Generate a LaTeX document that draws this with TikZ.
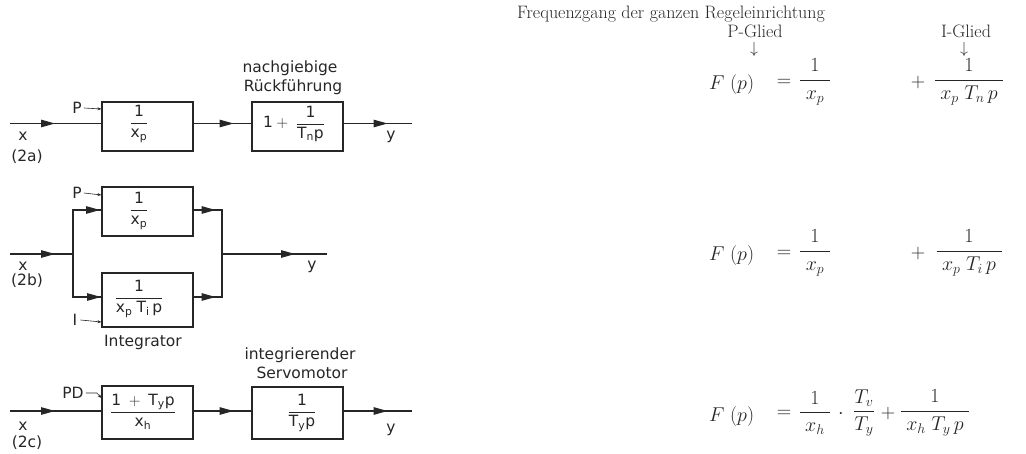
\RequirePackage{fix-cm}
\documentclass[tikz,border=0pt]{standalone}
\usepackage{amsmath}
\usepackage{fontspec}
\newfontfamily\lab{DejaVu Sans}
\usetikzlibrary{arrows.meta,decorations.markings}
\newcommand{\tx}[1]{\text{#1}}
\tikzset{
 blk/.style={draw=black!85, line width=1.1pt, minimum width=91pt, minimum height=49pt, inner sep=0pt},
 ln/.style={draw=black!85, line width=1.1pt},
 marr/.style={postaction={decorate},decoration={markings,mark=at position #1 with {\arrow{Triangle[length=14pt,width=7.5pt]}}}},
 lt/.style={font=\lab\fontsize{15.5}{18}\selectfont, inner sep=0pt, text=black!85},
 tin/.style={draw=black!85, line width=0.6pt, -{Stealth[length=4pt,width=3pt]}},
 rt/.style={font=\fontsize{18}{21}\selectfont, inner sep=0pt, text=black!85},
 rm/.style={font=\fontsize{20}{23}\selectfont, inner sep=0pt, text=black!85},
}
\begin{document}
\begin{tikzpicture}[x=1pt,y=-1pt]
\useasboundingbox (0,0) rectangle (1026,454);
% ---------- (2a)
\coordinate (xa) at (10,123.5);
\coordinate (ya) at (412,123.5);
\node[blk] (a1) at (147.5,126.5) {};
\node[blk] (a2) at (297.5,126.5) {};
\node[lt] (a1t) at (139,124) {$\dfrac{\tx{1}}{\tx{x}_{\tx{p}}}$};
\node[lt] (a2t) at (294,124) {$\tx{1}+\;\dfrac{\tx{1}}{\tx{T}_{\tx{n}}\tx{p}}$};
\draw[ln,marr=45pt] (xa) -- (a1.west |- xa);
\draw[ln,marr=40pt] (a1.east |- xa) -- (a2.west |- xa);
\draw[ln,marr=44pt] (a2.east |- xa) -- (ya);
\node[lt] (pa) at (77,108) {P};
\draw[tin] (pa.east) ++(2,0) coordinate (pas) -- (a1.west |- 0,109);
\node[lt] (xla) at (23,136) {x};
\node[lt] (nma) at (27,157) {(2a)};
\node[lt] (yla) at (391,137) {y};
\node[lt] (nga) at (290,68) {nachgiebige};
\node[lt] (rfa) at (293,87) {Rückführung};
% ---------- (2b)
\coordinate (xb) at (10,254);
\coordinate (jb) at (73,254);
\coordinate (kb) at (222,254);
\coordinate (yb) at (327,254);
\node[blk] (b1) at (147.5,211.5) {};
\node[blk, minimum height=54pt] (b2) at (147.5,300) {};
\node[lt] (b1t) at (139,211) {$\dfrac{\tx{1}}{\tx{x}_{\tx{p}}}$};
\node[lt] (b2t) at (139,299) {$\dfrac{\tx{1}}{\tx{x}_{\tx{p}}\;\tx{T}_{\tx{i}}\,\tx{p}}$};
\draw[ln,marr=45pt] (xb) -- (jb);
\draw[ln,marr=71pt] (jb) |- (b1.west |- 0,210);
\draw[ln,marr=71pt] (jb) |- (b2.west |- 0,297);
\draw[ln,marr=22pt] (b1.east |- 0,210) -| (kb);
\draw[ln,marr=22pt] (b2.east |- 0,297) -| (kb);
\draw[ln,marr=73pt] (kb) -- (yb);
\node[lt] (pb) at (77,193) {P};
\draw[tin] (pb.east) ++(2,0) -- (b1.west |- 0,195);
\node[lt] (ib) at (75,320) {I};
\draw[tin] (ib.east) ++(3,0) -- (b2.west |- 0,322);
\node[lt] (xlb) at (23,266) {x};
\node[lt] (nmb) at (27,281) {(2b)};
\node[lt] (ylb) at (312,267) {y};
\node[lt] (itg) at (143,342) {Integrator};
% ---------- (2c)
\coordinate (xc) at (10,411);
\coordinate (yc) at (412,411);
\node[blk, minimum height=53pt] (c1) at (147.5,412.5) {};
\node[blk, minimum height=52pt] (c2) at (297.5,413) {};
\node[lt] (c1t) at (143,412) {$\dfrac{\tx{1}\;+\;\tx{T}_{\tx{y}}\tx{p}}{\tx{x}_{\tx{h}}}$};
\node[lt] (c2t) at (302,413) {$\dfrac{\tx{1}}{\tx{T}_{\tx{y}}\tx{p}}$};
\draw[ln,marr=45pt] (xc) -- (c1.west |- xc);
\draw[ln,marr=40pt] (c1.east |- xc) -- (c2.west |- xc);
\draw[ln,marr=44pt] (c2.east |- xc) -- (yc);
\node[lt] (pdc) at (73,393) {PD};
\draw[tin] (pdc.east) ++(2,0) -- ++(11,0) -- (c1.west |- 0,398);
\node[lt] (xlc) at (23,426) {x};
\node[lt] (nmc) at (27,443) {(2c)};
\node[lt] (ylc) at (391,430) {y};
\node[lt] (igr) at (300,355) {integrierender};
\node[lt] (svm) at (302,373) {Servomotor};
% ---------- right side
\node[rt] (title) at (671,14) {Frequenzgang der ganzen Regeleinrichtung};
\node[rt] (pg) at (755,31) {P-Glied};
\node[rt] (ig) at (966,31) {I-Glied};
\node[rt, font=\fontsize{16}{18}\selectfont] (dn1) at (754,50) {$\downarrow$};
\node[rt, font=\fontsize{16}{18}\selectfont] (dn2) at (964,50) {$\downarrow$};
% eq 1
\node[rm, anchor=base west] (l1) at (709,90) {$F\;(p)$};
\node[rm] (e1) at (784,83) {$=$};
\node[rm] (f1a) at (815,82) {$\dfrac{\;1\;}{\;x_p\;}$};
\node[rm] (p1) at (918,83) {$+$};
\node[rm] (f1b) at (969,82) {$\dfrac{1}{\;x_p\;T_n\,p\;}$};
% eq 2
\node[rm, anchor=base west] (l2) at (709,261) {$F\;(p)$};
\node[rm] (e2) at (784,254) {$=$};
\node[rm] (f2a) at (815,253) {$\dfrac{\;1\;}{\;x_p\;}$};
\node[rm] (p2) at (918,254) {$+$};
\node[rm] (f2b) at (969,253) {$\dfrac{1}{\;x_p\;T_i\,p\;}$};
% eq 3
\node[rm, anchor=base west] (l3) at (709,421) {$F\;(p)$};
\node[rm] (e3) at (784,414) {$=$};
\node[rm] (f3a) at (815,413) {$\dfrac{\;1\;}{\;x_h\;}$};
\node[rm] (d3) at (841,414) {$\cdot$};
\node[rm] (f3c) at (864,413) {$\dfrac{T_v}{T_y}$};
\node[rm] (p3) at (888,414) {$+$};
\node[rm] (f3b) at (935,413) {$\dfrac{1}{\;x_h\;T_y\,p\;}$};
\end{tikzpicture}
\end{document}
